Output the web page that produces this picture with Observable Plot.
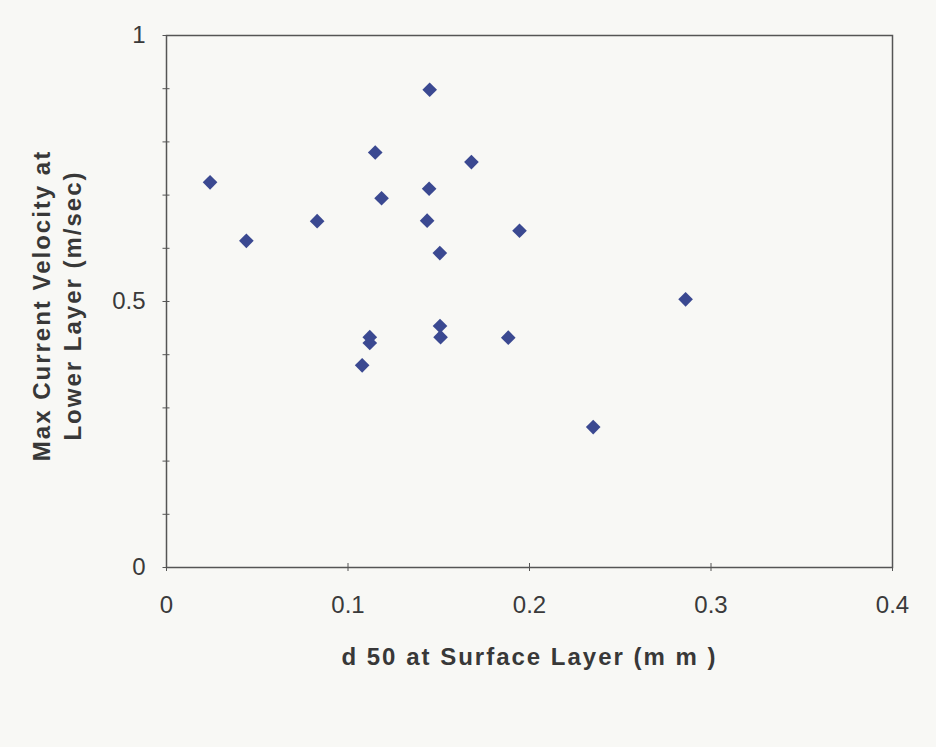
<!DOCTYPE html>
<html>
<head>
<meta charset="utf-8">
<script src="https://cdn.jsdelivr.net/npm/d3@7"></script>
<script src="https://cdn.jsdelivr.net/npm/@observablehq/plot@0.6"></script>
<style>
  html, body { margin: 0; padding: 0; background: #f8f8f5; }
  #chart svg { display: block; }
  #chart g[aria-label="text"] text { letter-spacing: 2px; }
</style>
</head>
<body>
<div id="chart"></div>
<script>
// d50 at surface layer (mm)
const d50 = [0.024, 0.044, 0.083, 0.115, 0.1185, 0.145, 0.1447, 0.1436, 0.1506, 0.168, 0.1945, 0.286, 0.112, 0.112, 0.1078, 0.1507, 0.151, 0.1883, 0.2351];
// Max current velocity at lower layer (m/sec)
const velocity = [0.724, 0.614, 0.651, 0.780, 0.694, 0.898, 0.712, 0.652, 0.591, 0.762, 0.633, 0.504, 0.433, 0.422, 0.380, 0.454, 0.433, 0.432, 0.264];

const xTicks = [0, 0.1, 0.2, 0.3, 0.4];
const yLabelTicks = [0, 0.5, 1];
const yMinorTicks = [0, 0.1, 0.2, 0.3, 0.4, 0.5, 0.6, 0.7, 0.8, 0.9, 1];
const xTitle = "d 50 at Surface Layer (m m )";
const yTitle = "Max Current Velocity at\nLower Layer (m/sec)";

const data = d50.map((x, i) => ({x, y: velocity[i]}));

const font = "'Liberation Sans', Arial, sans-serif";

const chart = Plot.plot({
  width: 936,
  height: 747,
  marginLeft: 166,
  marginRight: 44,
  marginTop: 35,
  marginBottom: 180,
  style: {background: "#f8f8f5", color: "#333"},
  x: {domain: [0, 0.4]},
  y: {domain: [0, 1]},
  marks: [
    Plot.frame({stroke: "#555", strokeWidth: 1.5}),
    // small crossing ticks on y axis
    Plot.axisY({ticks: yMinorTicks, tickSize: 7, dx: 3.5, tickFormat: () => "", stroke: "#555", label: null}),
    // small crossing ticks on x axis
    Plot.axisX({ticks: xTicks, tickSize: 8, dy: -4, tickFormat: () => "", stroke: "#555", label: null}),
    // y tick labels
    Plot.axisY({ticks: yLabelTicks, tickSize: 0, tickPadding: 21, tickFormat: d => String(d), fontSize: 24, fontFamily: font, fill: "#3a3a3a", label: null}),
    // x tick labels
    Plot.axisX({ticks: xTicks, tickSize: 0, tickPadding: 28, tickFormat: d => String(d), fontSize: 24, fontFamily: font, fill: "#3a3a3a", label: null}),
    Plot.dot(data, {x: "x", y: "y", symbol: d3.symbolDiamond2, r: 6.6, fill: "#3b4991", stroke: "none"}),
    Plot.text([xTitle], {frameAnchor: "bottom", dy: 97, text: d => d, fontSize: 24, fontWeight: "bold", fontFamily: font, fill: "#383838"}),
    Plot.text([yTitle], {frameAnchor: "left", textAnchor: "middle", dx: -111, dy: 4, rotate: -90, text: d => d, fontSize: 24, fontWeight: "bold", fontFamily: font, fill: "#383838", lineHeight: 1.3})
  ]
});
document.getElementById("chart").appendChild(chart);
</script>
</body>
</html>
